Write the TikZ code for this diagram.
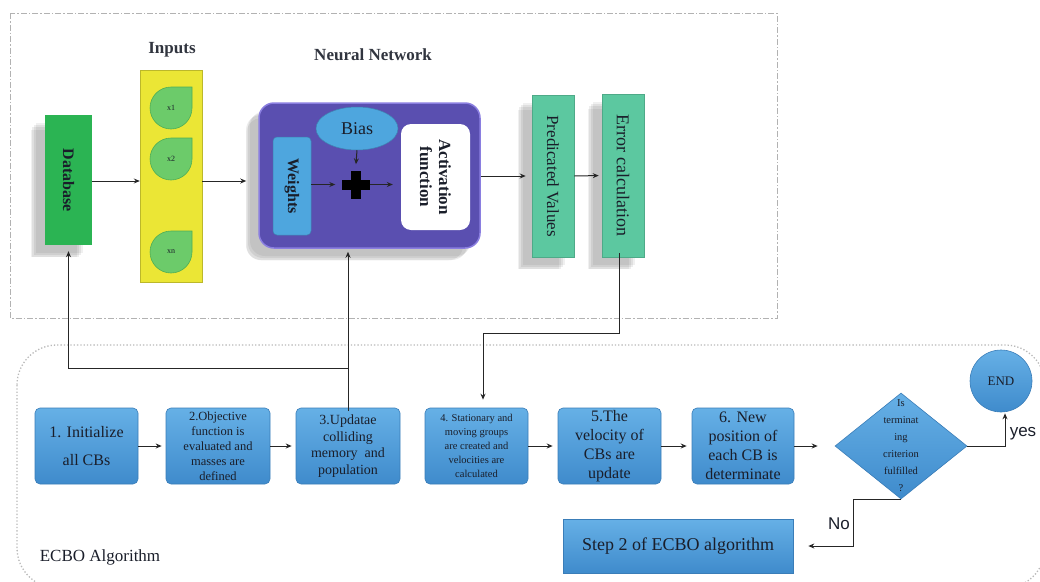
\documentclass[tikz,border=0pt]{standalone}
\usepackage{fontspec}
\setmainfont{Liberation Serif}
\newfontfamily\sansf{Liberation Sans}
\usetikzlibrary{shapes.geometric,shadows,arrows.meta,calc}
\definecolor{dbgreen}{HTML}{2BB453}
\definecolor{inyellow}{HTML}{EBE635}
\definecolor{dropgreen}{HTML}{6CCB6A}
\definecolor{dropedge}{HTML}{4FAE55}
\definecolor{nnpurple}{HTML}{5A4FB0}
\definecolor{nnedge}{HTML}{8A7EE0}
\definecolor{lblue}{HTML}{4EA6DE}
\definecolor{mint}{HTML}{5CC8A0}
\definecolor{boxtop}{HTML}{66B0E6}
\definecolor{boxbot}{HTML}{3F8BCC}
\definecolor{boxedge}{HTML}{3A7DB8}
\definecolor{tdark}{HTML}{1A1E2A}
\tikzset{
  arr/.style={-{Stealth[length=6pt,width=5pt]}, line width=1pt, black!85},
  line/.style={line width=1pt, black!85},
  shad/.style={
    drop shadow={shadow xshift=-9pt, shadow yshift=-8pt, fill=black, opacity=0.06},
    drop shadow={shadow xshift=-11pt, shadow yshift=-10pt, fill=black, opacity=0.07},
    drop shadow={shadow xshift=-13pt, shadow yshift=-12pt, fill=black, opacity=0.07},
    drop shadow={shadow xshift=-15pt, shadow yshift=-14pt, shadow scale=0.98, fill=black, opacity=0.06}},
  stepbox/.style={rectangle, rounded corners=5pt, draw=boxedge, line width=0.6pt,
    top color=boxtop, bottom color=boxbot, minimum height=76pt, inner sep=1pt,
    align=center, text=tdark},
  vtext/.style={rotate=-90, text=tdark, align=center},
}
\begin{document}
\begin{tikzpicture}[x=1pt,y=-1pt]
\useasboundingbox (0,0) rectangle (1040,581);
\clip (0,0) rectangle (1040,581);

% frames
\draw[gray!60, line width=1pt, dash pattern=on 6pt off 2pt on 1.5pt off 2pt] (10,13) rectangle (777,318);
\draw[gray!55, line width=1.3pt, dotted, rounded corners=40pt] (17,345) rectangle (1045,588);

% titles
\node[font=\bfseries\fontsize{17}{20}\selectfont, text=tdark!90] (tin) at (172,50) {Inputs};
\node[font=\bfseries\fontsize{17}{20}\selectfont, text=tdark!90] (tnn) at (373,55) {Neural Network};
\node[font=\fontsize{17}{19}\selectfont, text=tdark] (tecbo) at (100,557) {ECBO Algorithm};

% database
\node[shad, fill=dbgreen, minimum width=47pt, minimum height=130pt, inner sep=0] (db) at (68.5,180) {};
\node[vtext, font=\bfseries\fontsize{16}{18}\selectfont] (dbt) at (db.center) {Database};

% inputs
\node[fill=inyellow, draw=inyellow!80!black, line width=0.4pt, minimum width=62pt, minimum height=212pt, inner sep=0] (inp) at (171,176) {};
\foreach \cy/\lab/\nm in {108/x1/xa, 159/x2/xb, 252/xn/xc}{
  \draw[fill=dropgreen, draw=dropedge, line width=0.6pt]
    (192,\cy-21) -- (192,\cy) arc[start angle=0, end angle=270, radius=21] -- cycle;
  \node[font=\fontsize{8}{9}\selectfont, text=tdark] (\nm) at (171,\cy) {\lab};
}

% neural network
\node[shad, fill=nnpurple, draw=nnedge, line width=1.5pt, rounded corners=15pt,
      minimum width=221pt, minimum height=145pt, inner sep=0] (nn) at (369.5,175.5) {};
\node[ellipse, fill=lblue, draw=lblue!80!black, line width=0.5pt, minimum width=82pt, minimum height=43pt, inner sep=0,
      font=\fontsize{18}{20}\selectfont, text=tdark] (bias) at (357,128.5) {Bias};
\node[fill=lblue, draw=lblue!80!black, line width=0.5pt, rounded corners=4pt, minimum width=38pt, minimum height=98pt, inner sep=0] (wt) at (292,186) {};
\node[vtext, font=\bfseries\fontsize{16}{18}\selectfont] (wtt) at (wt.center) {Weights};
\node[fill=white, rounded corners=10pt, minimum width=69pt, minimum height=106pt, inner sep=0] (act) at (435.5,177) {};
\node[vtext, font=\bfseries\fontsize{17}{19}\selectfont] (actt) at (act.center) {Activation\\function};
\node[minimum size=28pt, inner sep=0] (plus) at (355.5,184.5) {};
\fill[black] ($(plus.center)+(-14,-5)$) rectangle ($(plus.center)+(14,5)$);
\fill[black] ($(plus.center)+(-5,-14)$) rectangle ($(plus.center)+(5,14)$);

% predicted / error
\node[shad, fill=mint, draw=mint!85!black, line width=0.5pt, minimum width=42pt, minimum height=162pt, inner sep=0] (pred) at (553,176) {};
\node[vtext, font=\fontsize{17}{19}\selectfont] (predt) at (pred.center) {Predicated Values};
\node[shad, fill=mint, draw=mint!85!black, line width=0.5pt, minimum width=42pt, minimum height=163pt, inner sep=0] (err) at (623,175.5) {};
\node[vtext, font=\fontsize{18}{20}\selectfont] (errt) at (err.center) {Error calculation};

% ECBO row
\node[stepbox, minimum width=103pt, font=\fontsize{16}{28}\selectfont] (b1) at (86.5,446) {1. Initialize\\all CBs};
\node[stepbox, minimum width=104pt, font=\fontsize{12.5}{15}\selectfont] (b2) at (218,446) {2.Objective\\function is\\evaluated and\\masses are\\defined};
\node[stepbox, minimum width=104pt, font=\fontsize{14}{16.5}\selectfont] (b3) at (348,446) {3.Updatae\\colliding\\memory~ and\\population};
\node[stepbox, minimum width=103pt, font=\fontsize{10.5}{14}\selectfont] (b4) at (476.5,446) {4. Stationary and\\moving groups\\are created and\\velocities are\\calculated};
\node[stepbox, minimum width=103pt, font=\fontsize{16}{19}\selectfont] (b5) at (609.5,446) {5.The\\velocity of\\CBs are\\update};
\node[stepbox, minimum width=102pt, font=\fontsize{16}{19}\selectfont] (b6) at (743,446) {6. New\\position of\\each CB is\\determinate};
\node[diamond, top color=boxtop, bottom color=boxbot, draw=boxedge, line width=0.6pt,
      minimum width=132pt, minimum height=106pt, inner sep=0] (dec) at (901,446) {};
\node[font=\fontsize{10.5}{17}\selectfont, align=center, text=tdark] (dect) at (901,446) {Is\\terminat\\ing\\criterion\\fulfilled\\?};
\node[circle, top color=boxtop, bottom color=boxbot, draw=boxedge, line width=0.6pt, minimum size=62pt, inner sep=0,
      font=\fontsize{13}{15}\selectfont, text=tdark] (endc) at (1001,381) {END};
\node[rectangle, top color=boxtop, bottom color=boxbot, draw=boxedge, line width=0.6pt,
      minimum width=230pt, minimum height=54pt, inner sep=0, font=\fontsize{18}{20}\selectfont, text=tdark] (step2) at (678,546) {Step 2 of ECBO algorithm};

% connectors, top
\coordinate (r1) at (0,181);
\draw[arr] (db.east |- r1) -- (inp.west |- r1);
\draw[arr, shorten >=12pt] (inp.east |- r1) -- (nn.west |- r1);
\draw[arr, shorten >=6pt] (wt.east |- plus) -- (plus.west);
\draw[arr, shorten >=8pt] (plus.east) -- (act.west |- plus);
\draw[arr, shorten >=6pt] (bias.south) -- (plus.north);
\draw[arr, shorten >=6pt] (nn.east |- pred.west) -- (pred.west);
\draw[arr, shorten >=3pt] (pred.east) -- (err.west);

% feedback
\coordinate (fb1) at (483,333);
\coordinate (fb2) at (348,368);
\draw[arr, shorten >=8pt] ([xshift=-4pt,yshift=4pt]err.south) |- (fb1) -- (fb1 |- b4.north);
\draw[arr, shorten >=3pt] ([yshift=-3pt]b3.north) -- (b3.north |- nn.south);
\draw[arr, shorten >=6pt] (fb2) -| (db.south);

% connectors, bottom
\draw[arr, shorten >=4pt] (b1.east) -- (b2.west);
\draw[arr, shorten >=4pt] (b2.east) -- (b3.west);
\draw[arr, shorten >=5pt] (b4.east) -- (b5.west);
\draw[arr, shorten >=5pt] (b5.east) -- (b6.west);
\draw[arr, shorten >=17pt] (b6.east) -- (dec.west);
\draw[arr, shorten >=1pt] (dec.east) -| ([xshift=4pt]endc.south);
\coordinate (nocorner) at (853,520);
\draw[arr, shorten >=15pt] (dec.south) -| (nocorner) |- (step2.east);
\node[font=\sansf\fontsize{17}{19}\selectfont, text=tdark] (yes) at (1023,434) {yes};
\node[font=\sansf\fontsize{17}{19}\selectfont, text=tdark] (no) at (839,524) {No};
\end{tikzpicture}
\end{document}
